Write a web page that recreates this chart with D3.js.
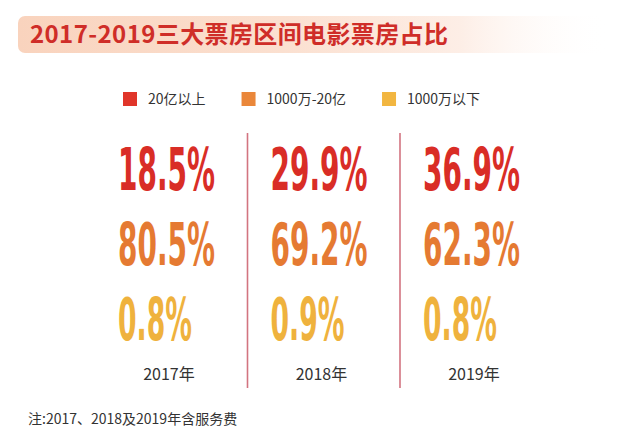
<!DOCTYPE html>
<html>
<head>
<meta charset="utf-8">
<script src="https://cdn.jsdelivr.net/npm/d3@7/dist/d3.min.js"></script>
<style>
  html, body { margin: 0; padding: 0; background: #ffffff; }
  svg { display: block; }
</style>
</head>
<body>
<svg id="chart" width="640" height="437"></svg>
<script>
// ---------- data ----------
const titleText = "2017-2019三大票房区间电影票房占比";
const years = ["2017年", "2018年", "2019年"];
const categories = ["20亿以上", "1000万-20亿", "1000万以下"];
const over2b = [18.5, 29.9, 36.9];      // 20亿以上
const mid = [80.5, 69.2, 62.3];         // 1000万-20亿
const under10m = [0.8, 0.9, 0.8];       // 1000万以下
const noteText = "注:2017、2018及2019年含服务费";

const series = [over2b, mid, under10m];
const colors = ["#d92d26", "#e57a32", "#efb23d"];
const legendColors = ["#e0352a", "#ea873a", "#f2b640"];

// ---------- setup ----------
const svg = d3.select("#chart");
const W = 640, H = 437;
svg.append("rect").attr("width", W).attr("height", H).attr("fill", "#ffffff");

const defs = svg.append("defs");
const grad = defs.append("linearGradient").attr("id", "titleGrad")
  .attr("x1", "0%").attr("x2", "100%").attr("y1", "0%").attr("y2", "0%");
grad.append("stop").attr("offset", "0%").attr("stop-color", "#f9d3bd");
grad.append("stop").attr("offset", "45%").attr("stop-color", "#fbe0d0");
grad.append("stop").attr("offset", "75%").attr("stop-color", "#fdeee6");
grad.append("stop").attr("offset", "100%").attr("stop-color", "#ffffff").attr("stop-opacity", 0);

// ---------- title ----------
svg.append("rect")
  .attr("x", 18).attr("y", 16).attr("width", 590).attr("height", 37)
  .attr("rx", 7).attr("fill", "url(#titleGrad)");
svg.append("text")
  .attr("x", 30).attr("y", 43)
  .attr("font-family", "'Noto Sans CJK SC', 'Noto Sans', sans-serif")
  .attr("font-weight", 700)
  .attr("font-size", 24)
  .attr("fill", "#cf2d28")
  .attr("textLength", 418)
  .attr("lengthAdjust", "spacing")
  .text(titleText);

// ---------- legend ----------
const legend = svg.append("g").attr("transform", "translate(123,92)");
let lx = 0;
categories.forEach((c, i) => {
  const g = legend.append("g").attr("transform", `translate(${lx},0)`);
  g.append("rect").attr("width", 14).attr("height", 14).attr("fill", legendColors[i]);
  const t = g.append("text")
    .attr("x", 25).attr("y", 12)
    .attr("font-family", "'Noto Sans CJK SC', 'Noto Sans', sans-serif")
    .attr("font-size", 14)
    .attr("fill", "#333333")
    .text(c);
  lx += 25 + t.node().getComputedTextLength() + 36;
});

// ---------- scales ----------
const x = d3.scalePoint().domain(years).range([118, 423]);
const y = d3.scalePoint().domain(categories).range([190, 340]);

// ---------- separators ----------
svg.append("g").selectAll("line")
  .data(years.slice(1))
  .join("line")
  .attr("x1", d => x(d) - 23).attr("x2", d => x(d) - 23)
  .attr("y1", 133).attr("y2", 388)
  .attr("stroke", "#d27480")
  .attr("stroke-width", 1.6);

// ---------- big numbers ----------
const glyphW = ch => (ch === "." ? 7 : ch === "%" ? 21 : 23);
const fmt = v => v.toFixed(1) + "%";
const cells = [];
series.forEach((s, si) => s.forEach((v, yi) => cells.push({ cat: categories[si], year: years[yi], v, si })));

svg.append("g").selectAll("text")
  .data(cells)
  .join("text")
  .attr("x", 0)
  .attr("y", 0)
  .attr("font-family", "'Liberation Sans Narrow', 'Arial Narrow', 'DejaVu Sans Condensed', 'Liberation Sans', sans-serif")
  .attr("font-weight", 700)
  .attr("font-size", 59)
  .attr("fill", d => colors[d.si])
  .text(d => fmt(d.v))
  .each(function (d) {
    const natural = this.getComputedTextLength();
    const target = d3.sum(fmt(d.v).split(""), glyphW);
    const sx = target / natural;
    d3.select(this).attr("transform", `translate(${x(d.year)},${y(d.cat)}) scale(${sx},1)`);
  });

// ---------- year labels ----------
svg.append("g").selectAll("text")
  .data(years)
  .join("text")
  .attr("x", d => x(d) + 51)
  .attr("y", 380)
  .attr("text-anchor", "middle")
  .attr("font-family", "'Noto Sans CJK SC', 'Noto Sans', sans-serif")
  .attr("font-size", 16)
  .attr("fill", "#333333")
  .text(d => d);

// ---------- note ----------
svg.append("text")
  .attr("x", 28).attr("y", 424)
  .attr("font-family", "'Noto Sans CJK SC', 'Noto Sans', sans-serif")
  .attr("font-size", 14)
  .attr("fill", "#333333")
  .text(noteText);
</script>
</body>
</html>
